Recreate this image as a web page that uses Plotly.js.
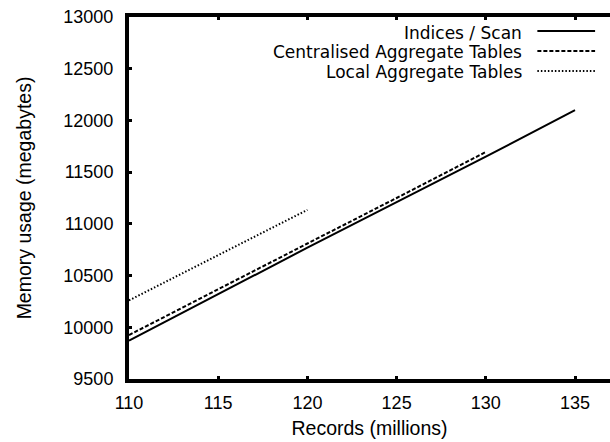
<!DOCTYPE html>
<html>
<head>
<meta charset="utf-8">
<script src="https://cdn.plot.ly/plotly-3.0.1.min.js"></script>
<style>html,body{margin:0;padding:0;background:#fff;}#chart{width:610px;height:442px;}</style>
</head>
<body>
<div id="chart"></div>
<script>
// Data
const seriesNames = ["Indices / Scan", "Centralised Aggregate Tables", "Local Aggregate Tables"];
const indicesX = [110, 115, 120, 125, 130, 135];
const indicesY = [9870, 10320, 10770, 11210, 11650, 12100];
const centralX = [110, 115, 120, 125, 130];
const centralY = [9925, 10370, 10810, 11250, 11695];
const localX = [110, 115, 120];
const localY = [10260, 10700, 11135];
const xTicks = [110, 115, 120, 125, 130, 135];
const yTicks = [9500, 10000, 10500, 11000, 11500, 12000, 12500, 13000];
const dashes = ["solid", "4px,2px", "1.5px,2px"];

const FONT = "Liberation Sans, Arial, Helvetica, sans-serif";
const LEGFONT = "DejaVu Sans, Liberation Sans, sans-serif";

const traces = [
  {x: indicesX, y: indicesY, name: seriesNames[0], mode: "lines", line: {color: "#000", width: 2, dash: dashes[0]}},
  {x: centralX, y: centralY, name: seriesNames[1], mode: "lines", line: {color: "#000", width: 2, dash: dashes[1]}},
  {x: localX, y: localY, name: seriesNames[2], mode: "lines", line: {color: "#000", width: 2, dash: dashes[2]}}
];

// Gnuplot-style legend: right-aligned text with line sample to its right
const legRowsY = [0.957, 0.902, 0.847];
const annotations = seriesNames.map((n, i) => ({
  xref: "paper", yref: "paper", x: 0.819, y: legRowsY[i],
  xanchor: "right", yanchor: "middle", text: n, showarrow: false, borderpad: 0,
  font: {family: LEGFONT, size: 17, color: "#000"}
}));
const shapes = seriesNames.map((n, i) => ({
  type: "line", xref: "paper", yref: "paper",
  x0: 0.849, x1: 0.969, y0: legRowsY[i] + 0.004, y1: legRowsY[i] + 0.004,
  line: {color: "#000", width: 2, dash: dashes[i]}
}));

const layout = {
  width: 610, height: 442,
  margin: {l: 129, r: 0, t: 17, b: 63, pad: 0},
  paper_bgcolor: "#fff", plot_bgcolor: "#fff",
  showlegend: false,
  font: {family: FONT, size: 18, color: "#000"},
  xaxis: {
    range: [110, 136.96], tickvals: xTicks, ticktext: xTicks.map(String),
    showgrid: false, zeroline: false,
    showline: true, linecolor: "#000", linewidth: 4, mirror: "ticks",
    ticks: "inside", ticklen: 3, tickwidth: 3, tickcolor: "#000",
    tickfont: {family: FONT, size: 18, color: "#000"},
    ticklabelstandoff: 4,
    title: {text: "Records (millions)", font: {family: FONT, size: 19.5, color: "#000"}, standoff: 11}
  },
  yaxis: {
    range: [9500, 13000], tickvals: yTicks, ticktext: yTicks.map(String),
    showgrid: false, zeroline: false,
    showline: true, linecolor: "#000", linewidth: 4, mirror: false,
    ticks: "inside", ticklen: 3, tickwidth: 3, tickcolor: "#000",
    tickfont: {family: FONT, size: 18, color: "#000"},
    ticklabelstandoff: 8,
    title: {text: "Memory usage (megabytes)", font: {family: FONT, size: 19.5, color: "#000"}, standoff: 28}
  },
  annotations: annotations,
  shapes: shapes
};

Plotly.newPlot("chart", traces, layout, {displayModeBar: false, staticPlot: true});
</script>
</body>
</html>
